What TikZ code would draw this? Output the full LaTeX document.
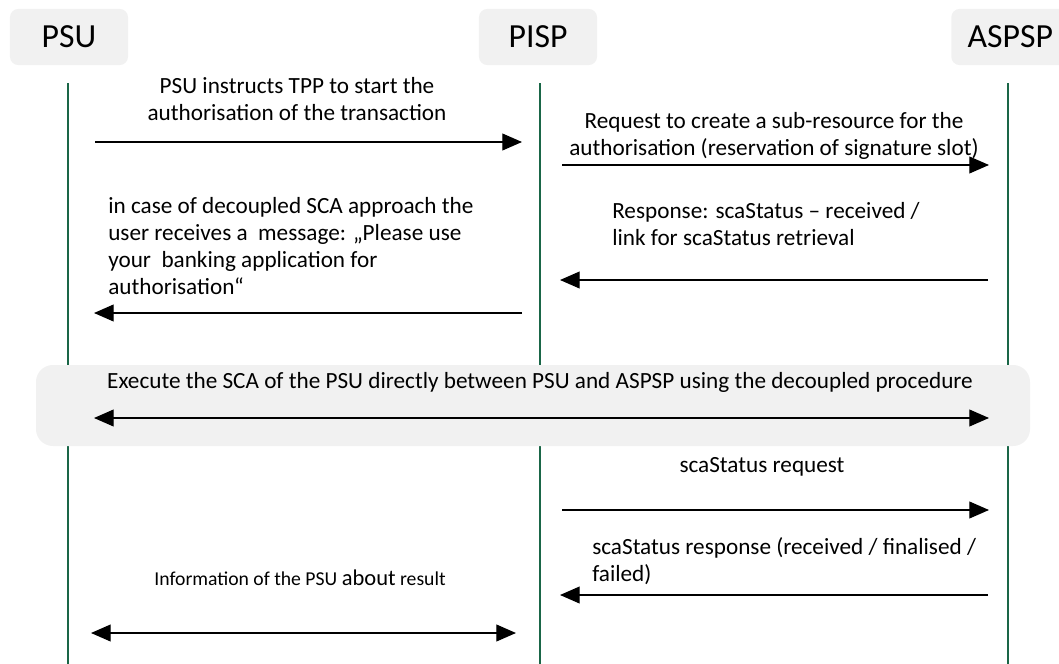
\documentclass[tikz,border=0pt]{standalone}
\usepackage{fontspec}
\setmainfont{Carlito}
\usetikzlibrary{arrows.meta}

\definecolor{lifegreen}{HTML}{1A6647}
\definecolor{boxgray}{HTML}{F1F1F1}

\tikzset{
  hdr/.style={fill=boxgray, rounded corners=6pt, minimum height=40pt, font=\fontsize{24}{28}\selectfont},
  lifeline/.style={draw=lifegreen, line width=2pt},
  msg/.style={line width=0.9pt, -{Triangle[length=14pt, width=12pt]}},
  dmsg/.style={line width=0.9pt, {Triangle[length=14pt, width=12pt]}-{Triangle[length=14pt, width=12pt]}},
  msgtext/.style={font=\fontsize{16.5}{19.2}\selectfont, inner sep=0pt}
}

\begin{document}
\begin{tikzpicture}[x=0.025cm, y=-0.025cm]
        \useasboundingbox (0,0) rectangle (1059,664);
        % participants
        \node [hdr, minimum width=84pt] (psu) at (69,37) {PSU};
        \node [hdr, minimum width=84pt] (pisp) at (538,37) {PISP};
        \node [hdr, minimum width=84pt, anchor=west] (aspsp) at (951,37) {ASPSP};
        % lifelines
        \draw [lifeline] (68,83) -- (68,664);
        \draw [lifeline] (540,83) -- (540,664);
        \draw [lifeline] (1008,83) -- (1008,664);
        % band for the decoupled SCA
        \filldraw [fill=boxgray, draw=none, rounded corners=12pt] (36,365) rectangle (1030,446);
        \node [msgtext] (band) at (540,382) {Execute the SCA of the PSU directly between PSU and ASPSP using the decoupled procedure};
        % end points of the messages
        \coordinate (m1a) at (95,142);   \coordinate (m1b) at (522,142);
        \coordinate (m2a) at (562,165);  \coordinate (m2b) at (989,165);
        \coordinate (m3a) at (988,280);  \coordinate (m3b) at (560,280);
        \coordinate (m4a) at (522,313);  \coordinate (m4b) at (94,313);
        \coordinate (m5a) at (94,418);   \coordinate (m5b) at (989,418);
        \coordinate (m6a) at (562,510);  \coordinate (m6b) at (989,510);
        \coordinate (m7a) at (988,595);  \coordinate (m7b) at (560,595);
        \coordinate (m8a) at (91,633);   \coordinate (m8b) at (516,633);
        % labels
        \node [msgtext, align=center] (t1) at (297,99) {PSU instructs TPP to start the\\authorisation of the transaction};
        \node [msgtext, align=center] (t2) at (774,136) {Request to create a sub-resource for the\\authorisation (reservation of signature slot)};
        \node [msgtext, align=left, anchor=north west] (t3) at (612,202) {Response: scaStatus -- received /\\link for scaStatus retrieval};
        \node [msgtext, align=left, anchor=north west] (t4) at (108,197) {in case of decoupled SCA approach the\\user receives a~ message: „Please use\\your~ banking application for\\authorisation“};
        \node [msgtext] (t6) at (762,467) {scaStatus request};
        \node [msgtext, align=left, anchor=north west] (t7) at (592,537) {scaStatus response (received / finalised /\\failed)};
        \node [msgtext, font=\fontsize{14}{15}\selectfont] (t8) at (300,578) {Information of the PSU {\fontsize{16}{16}\selectfont about} result};
        % messages
        \draw [msg] (m1a) -- (m1b);
        \draw [msg] (m2a) -- (m2b);
        \draw [msg] (m3a) -- (m3b);
        \draw [msg] (m4a) -- (m4b);
        \draw [dmsg] (m5a) -- (m5b);
        \draw [msg] (m6a) -- (m6b);
        \draw [msg] (m7a) -- (m7b);
        \draw [dmsg] (m8a) -- (m8b);
\end{tikzpicture}
\end{document}
